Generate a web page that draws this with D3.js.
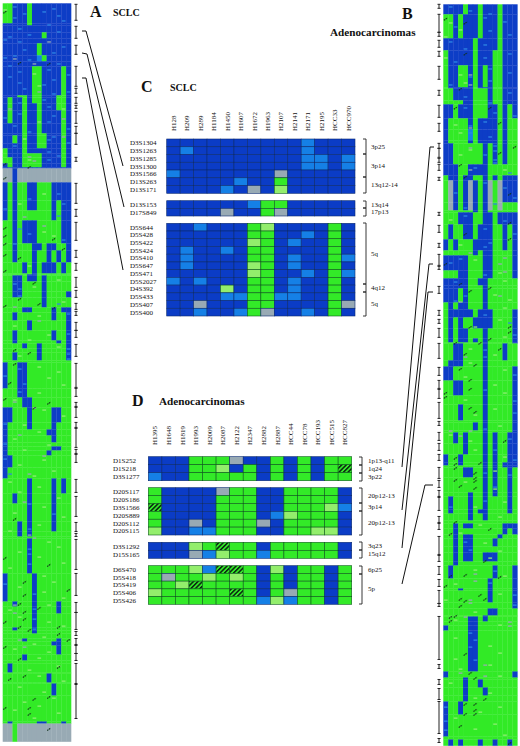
<!DOCTYPE html>
<html>
<head>
<meta charset="utf-8">
<script src="https://cdn.jsdelivr.net/npm/d3@7"></script>
<style>
  html, body { margin: 0; padding: 0; background: #fff; }
  svg { display: block; }
  text { font-family: "Liberation Serif", serif; fill: #111; }
</style>
</head>
<body>
<div id="chart"></div>
<script>
// . blue, L light blue, G green, P pale green, Y grey, H hatched

// Panel A: [first row, state of the 14 samples]
const rowsA = [
  [0,"GG...G........"],[20,".....G........"],[22,".............."],[29,"........G....."],
  [35,".............."],[40,".......G......"],[52,".......LG....."],[58,".............."],
  [63,"......GG....G."],[92,"...GG.GG...GG."],[94,".G..G.GG...GG."],[100,".G..G..G...GG."],
  [107,".G..G..G....G."],[120,"....G..G....G."],[130,"....G..GG...G."],[132,"..G.G..GG...G."],
  [140,"....G..GG...G."],[145,"G...G.......G."],[150,"G...GGGG....G."],[154,"GG..GGGG....G."],
  [160,".G..GGGG....G."],[164,".............."],[165,"YY.YYYYYYYYYYY"],[179,".G.GG..GGG...."],
  [197,".G.GG..GGG.G.."],[207,".G.GGGGGGG.G.."],[217,"GG.G...GGGGG.."],[240,"GG.GGG..G..GG."],
  [247,"GG.GGG.GG.G.G."],[259,"GGGG.G.G...G.G"],[270,"GGGGGG.GGGGGGG"],[271,"GGGGG..GGGGGGG"],
  [272,"GG..G..G.GGGGG"],[278,"GG..GGGG.GGGGG"],[288,"GG..GGGG.GGGG."],[294,"GGGGGGGG.GGGGG"],
  [304,"GGGG..GGGG.G.."],[309,"GG.GGGGGGG.GG."],[317,"GGGGG.GGGGGGG."],[327,"GG.GGGGGGG.GG."],
  [337,"GG.GGGGGGGG.G."],[340,"GGGG.GG.GGGGG."],[345,"GGGGGGG.GGGGG."],[349,"GG.GGGG.GGGGG."],
  [357,"GGGGGGGGGGGGGG"],[359,".GG..GGGGGGGGG"],[385,"GGG..GGGGGGGGG"],[394,"GGGG..GGGGGGGG"],
  [404,"..GGG.GGGG..GG"],[419,".GGGG.GGGG.GGG"],[426,".GGGGGGGG..GGG"],[432,".GGGGGGGGG.GGG"],
  [439,".GGGGGGGGGGGGG"],[443,".GGGGGGGGG..GG"],[447,".GGGGGGGG.GGGG"],[452,"..GGGGGGGGGGGG"],
  [464,".GGGGGGGGGGGGG"],[475,"GGGGG.GGGG.G.G"],[490,"GG.GG.GGGG.GGG"],[500,"GGGGG.GGGG.GGG"],
  [518,"GGG.G.GGGG.GGG"],[528,"GGG.G.GGGGGGGG"],[533,"GGGGGGGGGGGGGG"],[535,"GGGGG.GGGGGGGG"],
  [570,".GGGGG.GGGGGGG"],[598,"GG.GGG.GGGG.GG"],[603,"GGGGGG.GGGG.GG"],[610,"GGGGGG.GGGGGGG"],
  [624,"GG.GGG.GGGGGGG"],[627,"GGGGGG.GGGGGGG"],[630,"GGGGGGGGGGGGGG"],[635,"GGGG.GGGGGG.GG"],
  [638,"GGGGGGGGGG..GG"],[642,"GGGGGGGGGGG.GG"],[651,"GGGG.GGGGGGGGG"],[657,"GGGGGGGGGGGGGG"],
  [660,"G.GGGGGGGGGGGG"],[669,"GGGGGGGGGGGGGG"],[670,"GGGGGGGGG.GGGG"],[679,"GGGGGGGGGGGGGG"],
  [680,"GGGGGGGGGG.GGG"],[692,"GGGGGGGGGGGGGG"],[718,"G.GGGGG..GGG.G"],[720,"YYGYYYYYYYYYYY"]
];
const lastRowA = 738;
const lightA = [
  [3,2],[5,10],[8,8],[10,4],[12,11],[14,2],[17,12],[21,9],[25,3],[28,11],[31,5],[33,1],[36,0],[38,3],[43,12],
  [46,4],[49,10],[52,2],[54,0],[56,5],[60,11],[62,1],[66,9],[68,3],[71,13],[73,1],[76,10],[79,3],[81,8],[85,4],
  [88,13],[90,10],[96,8],[99,3],[103,9],[110,3],[112,10],[114,0],[118,9],[122,2],[125,13],[128,5],[133,10],
  [136,9],[139,13],[142,2],[148,9],[152,11],[156,9],[190,11],[195,5],[200,12],[205,0],[212,11],[225,3],[230,5],
  [236,12],[240,2],[280,2],[285,3],[292,3],[300,11],[310,13],[330,13],[345,13],[350,13],[355,13],[365,3],[372,0],
  [380,4],[388,3],[420,0],[440,0],[455,0],[470,1],[500,5],[510,10],[525,5],[545,5],[550,5],[560,5],[580,0],
  [590,6],[605,6],[615,6],[625,6]
];
const paleA = [
  [6,0],[70,6],[82,7],[105,12],[118,7],[135,4],[156,5],[190,8],[200,3],[228,8],[232,10],[262,5],[276,11],[283,6],
  [298,12],[312,7],[322,2],[331,9],[336,5],[343,11],[352,3],[363,7],[368,11],[374,9],[381,12],[389,7],[396,2],
  [406,8],[412,12],[421,4],[428,7],[435,2],[441,9],[446,4],[456,8],[461,3],[467,10],[472,6],[478,1],[483,7],
  [488,3],[494,11],[503,8],[509,2],[513,12],[521,7],[527,1],[538,9],[543,11],[548,3],[553,7],[559,12],[564,1],
  [572,8],[578,10],[583,3],[588,8],[594,12],[601,9],[606,1],[613,3],[618,9],[622,12],[633,8],[640,6],[645,2],
  [648,9],[654,7],[662,11],[666,5],[672,7],[677,12],[683,3],[688,8],[694,10],[698,4],[702,7],[706,2],[709,11],[714,6]
];
const greyA = [
  [38,9],[55,2],[60,6],[88,7],[105,1],[115,12],[133,12],[153,5],[157,6],[213,4],[222,8],[303,2],[317,7],
  [398,2],[404,6],[431,3],[452,8],[470,5],[498,4],[531,5],[534,6],[601,2],[609,2],[636,3],[643,4]
];
const marksA = [
  [8,0],[59,3],[60,9],[160,0],[163,5],[174,0],[224,0],[232,0],[240,0],[235,10],[245,12],[251,0],[254,3],[267,0],
  [279,6],[295,3],[302,0],[300,7],[304,10],[346,2],[349,5],[360,2],[379,1],[395,0],[404,6],[399,9],[515,2],[554,0],
  [561,9],[578,4],[591,4],[586,13],[600,3],[604,7],[608,4],[618,0],[615,4],[626,5],[623,3],[623,11],[630,11],[636,13],
  [643,0],[655,3],[663,11],[675,1],[672,4],[695,6],[693,9],[704,0],[704,5],[710,5],[725,9]
];
const spansA = [
  [1,17],[23,35],[42,51],[63,83],[85,90],[94,100],[102,105],[108,120],[123,130],[130,141],[154,158],[180,200],[206,213],[219,237],
  [247,254],[260,267],[274,284],[287,294],[300,306],[308,312],[319,327],[327,334],[341,353],[360,384],[385,393],[399,403],[404,414],
  [419,424],[425,444],[446,450],[451,459],[476,489],[493,513],[519,528],[530,533],[536,566],[570,592],[599,609],[609,626],[628,632],
  [635,641],[642,650],[650,657],[660,680],[681,715]
];

// Panel B: [first row, state of the 15 samples]
const rowsB = [
  [0,"....G..G...G..."],[10,"GG.G...G...G..."],[34,"......G....G..."],[46,"G.....G...GG..."],
  [61,"G..GG.G.G.GG..."],[83,"G.....G...GG..."],[84,"GG....GGG.GG..."],[96,"GGGG..GGG.GG..."],
  [100,"..G...GGG..G.G."],[114,".GGGG.G....G.GG"],[125,".GGGGLG....G.GG"],[136,".GGGG.G....G.GG"],
  [139,"..GGGGGG.G.G.GG"],[160,"...GG....GGGGGG"],[171,"G..G..GG.G.G..."],[176,"GY.G.Y.G.YGY..."],
  [198,"GY.G.Y.G.YGYGGG"],[206,"GGGGGG.G.GGGGGG"],[208,"GGG...GG..G...."],[220,"G.GG..G...GG.G."],
  [235,".G.GGG....GG.G."],[246,"GGGGGG.G..GGGG."],[251,".....GGG..GGGG."],[266,"GGG..GGG..GGGG."],
  [274,".....GG..GGGGGG"],[281,".....GGG.GGGGGG"],[284,"...G.GGG.GGGGGG"],[298,"G.G..GGG.GGGGGG"],
  [305,"G.....G...GGGG."],[313,"G.G.GG....GGGG."],[324,"G.G..GGG.GGGGG."],[334,"G.G..G.G.GGGGG."],
  [338,"GGGGGGGG.GGGGG."],[339,"GG..GGGG.GGG.GG"],[356,"G...GGGG.GGGGGG"],[362,"..GGGGGG.GGGGG."],
  [376,"GG..GGGG.GGGGG."],[391,"GGGGGGGG.GGGGG."],[400,"GGG.GGGG.GGGGG."],[416,"GGGGGGGG.GGGGG."],
  [418,"GGGGGG.G.GGGGG."],[426,"GGGGGGGG.GGGGG."],[428,"GG.G.GGG.G.GG.."],[439,"GGGG.GGG.G.GG.."],
  [450,".GG.GGGG.G.GG.."],[458,".GG.GGGG.G.G..."],[461,"GGGGGGGG.G.G..."],[463,"GGGG..GG.G.GG.G"],
  [473,"GGGGGGGG.G.GG.G"],[488,"GGGGG.GG.G.GG.G"],[492,"G.GGG.GG.GGGG.G"],[505,"G.GGG.G..GGGG.G"],
  [509,"GGGGG.GG.GGGGGG"],[516,"GGGGGGGGGGGGGGG"],[519,"GG.G..GGGGGG..."],[524,"GG.GGGGGGGGG.G."],
  [530,"GG.G..GGGGG.GGG"],[534,"GG.G..GGGG.GGGG"],[542,"GG.G..GGGGGGGGG"],[548,"GG.G..GG...GGGG"],
  [557,"GG.GGGGGGGGGGGG"],[561,"G.GGGGGGGG.GGG."],[574,"GGGGGGGGG.GGGG."],[584,"GGG.GGGGG.GGGG."],
  [586,"GGGGGGGGG.GGGG."],[598,"GGGGGGGGGGGGGG."],[604,"GGGGGGGGG..GGGG"],[611,"GGGGGGGG.GGGGGG"],
  [612,"GGGGG..G.GGGGGG"],[617,"GGGGG..GGGGGGGG"],[621,".GGGG..GGGGGGGG"],[626,"GGGGG..GGGGGGGG"],
  [667,".GGGGGGGGGGGGG."],[673,"GGGG.GGGGGGGGGG"],[675,"GGGG.GG.GGGGGGG"],[683,"GGGG.GGG.GGGGGG"],
  [691,"GGGG.GGGGGGGGGG"],[697,".GG.GGGGGGGGGGG"],[710,".GGGGGGGGGGGGGG"],[732,"GGGGGGGGGGGGGGG"],
  [735,"G.G.GGG.GG.GG.G"]
];
const lastRowB = 741;
const lightB = [
  [2,1],[6,5],[9,9],[13,8],[17,12],[22,2],[26,9],[30,13],[37,1],[40,8],[44,4],[49,13],[53,8],[57,2],[64,9],[68,13],
  [72,5],[76,9],[80,1],[88,13],[92,4],[98,9],[103,4],[108,10],[111,14],[117,8],[121,5],[128,5],[132,9],[141,10],[146,10],
  [150,8],[155,10],[158,10],[163,6],[168,13],[178,8],[183,12],[188,2],[193,14],[199,10],[203,4],[211,4],[216,12],[224,8],
  [229,14],[238,9],[242,8],[254,3],[258,1],[270,8],[277,2],[291,4],[296,2],[310,8],[318,13],[330,14],[345,8],[352,8],
  [370,14],[385,8],[396,14],[408,14],[424,8],[434,13],[445,10],[455,14],[468,8],[470,13],[482,10],[496,8],[502,1],[537,4],
  [545,5],[566,10],[578,9],[590,14],[600,14],[628,5],[635,6],[642,5],[655,6],[702,0],[716,0],[725,0]
];
const paleB = [
  [18,1],[25,3],[32,0],[53,0],[70,3],[78,4],[120,2],[128,3],[145,5],[150,3],[165,12],[215,1],[240,3],[255,6],[268,11],
  [276,12],[290,10],[295,13],[303,12],[315,11],[322,6],[332,12],[344,5],[350,10],[358,5],[365,12],[372,4],[380,10],[388,12],
  [395,4],[404,10],[410,6],[421,11],[430,1],[436,5],[445,6],[452,12],[466,10],[477,4],[484,10],[497,12],[502,6],[512,11],
  [520,7],[528,3],[538,8],[546,11],[553,9],[565,6],[571,12],[579,2],[589,11],[595,0],[607,6],[615,2],[620,11],[633,2],[641,9],
  [648,11],[654,2],[660,9],[664,3],[671,11],[678,1],[688,9],[693,6],[702,11],[707,7],[713,2],[719,10],[724,6],[730,12]
];
const greyB = [
  [70,5],[80,5],[123,5],[143,5],[165,5],[248,5],[253,12],[259,11],[267,12],[291,11],[297,3],[352,4],[426,1],[426,5],
  [431,3],[569,6],[576,6],[595,5],[598,5],[612,4],[617,13],[621,13],[660,8],[668,3],[671,8]
];
const marksB = [
  [14,0],[18,4],[49,4],[84,3],[103,2],[103,9],[118,11],[142,14],[148,11],[160,3],[172,4],[189,13],[218,13],[229,4],[234,13],
  [259,0],[279,3],[283,9],[286,5],[322,5],[322,13],[327,13],[338,2],[338,7],[334,9],[344,11],[349,4],[360,6],[364,3],[375,5],
  [384,5],[388,0],[392,0],[403,5],[407,6],[436,12],[453,2],[458,7],[459,2],[463,2],[468,6],[473,6],[475,2],[476,6],[481,3],[483,6],
  [517,2],[524,9],[529,1],[556,8],[570,4],[571,1],[572,11],[581,0],[590,7],[594,3],[596,4],[594,8],[601,3],[612,1],[611,2],[616,1],
  [649,4],[668,5],[673,6],[694,8],[699,4],[699,6],[705,6],[709,4],[709,6],[721,3],[738,13]
];
const spansB = [
  [0,4],[10,28],[28,32],[36,43],[47,52],[62,75],[86,91],[101,113],[119,127],[139,144],[144,153],[154,158],[160,166],[173,176],
  [208,211],[221,228],[239,243],[250,261],[262,265],[282,289],[306,311],[315,319],[324,333],[339,354],[363,371],[376,384],[385,394],
  [398,414],[417,421],[428,436],[439,446],[450,456],[463,474],[476,483],[486,493],[492,506],[512,518],[519,525],[532,550],[551,557],
  [562,570],[575,582],[586,599],[599,602],[612,655],[660,664],[675,680],[684,695],[697,729],[734,738]
];

// Panel C
const samplesC = ["H128","H209","H289","H1184","H1450","H1607","H1672","H1963","H2107","H2141","H2171","H2195","HCC33","HCC970"];
const markersC1 = ["D3S1304","D3S1263","D3S1285","D3S1300","D3S1566","D13S263","D13S171"];
const cellsC1 = ["..........L...",".L........L...","..........LL.L","..........LL.L","L.......Y.....",".....L..G.....","....L.Y.P....."];
const markersC2 = ["D13S153","D17S849"];
const cellsC2 = ["......LGG.....","....Y..GY....."];
const markersC3 = ["D5S644","D5S428","D5S422","D5S424","D5S410","D5S647","D5S471","D5S2027","D4S392","D5S433","D5S407","D5S400"];
const cellsC3 = [
  "..L...GP....G.","......GG..L.G.","......PG.L..G.",".L..L.GG....G.",".L....GG.L..GL",".L....PG.L..G.",
  "......PG..L.GL","L.L...GG.L..G.","....P.GG.L..G.","....LLGGLL..G.","..Y...GG....GY","..L..LGY..L.G."
];

// Panel D
const samplesD = ["H1395","H1648","H1819","H1993","H2009","H2087","H2122","H2347","H2882","H2887","HCC44","HCC78","HCC193","HCC515","HCC827"];
const markersD1 = ["D1S252","D1S218","D3S1277"];
const cellsD1 = ["...GGGY..G.G.GG","...GGP.G.G.G.GH","L..GGGGG.G.G.GG"];
const markersD2 = ["D20S117","D20S186","D3S1566","D20S889","D20S112","D20S115"];
const cellsD2 = ["G....YGG..GGGG.","G....GGG..GGGG.","H....GGG..GGGPL","G....GGG.LPGGG.","G..Y.GGGY.GGGG.","P..LLGGG..GGPP."];
const markersD3 = ["D3S1292","D15S165"];
const cellsD3 = ["...PGHGG.GGGGG.","...YLPGGLGGGGG."];
const markersD4 = ["D6S470","D5S418","D5S419","D5S406","D5S426"];
const cellsD4 = ["GGGPLHHG.P.GG.G","GYGGPGPG.G.GG.G","GGPHGGGG.G.GG.G","PGGGGGHG.GYGG.G","GGGGGGGGLPLGG.G"];

// bracket ends and the cytoband beside each
const bandsC = [["3p25",139,154],["3p14",154,177],["13q12-14",177,193],["13q14",201,208],["17p13",208,216],["5q",223,284],["4q12",284,292],["5q",292,316]];
const bandsD = [["1p13-q11",457,465],["1q24",465,473],["3p22",473,481],["20p12-13",488,503],["3p14",503,511],["20p12-13",511,535],["3q23",542,550],["15q12",550,558],["6p25",566,574],["5p",574,604]];

const W = 520, H = 746;
const color = { ".": "#0b3cc6", L: "#1580e6", G: "#33ea28", P: "#93ee6c", Y: "#98aab4" };
const fill = c => c === "H" ? "url(#hatch)" : color[c];

const svg = d3.select("#chart").append("svg").attr("width", W).attr("height", H);
const defs = svg.append("defs");
defs.append("filter").attr("id", "soft").append("feGaussianBlur").attr("stdDeviation", 0.5);
const hatch = defs.append("pattern").attr("id", "hatch").attr("width", 3.2).attr("height", 3.2)
  .attr("patternUnits", "userSpaceOnUse").attr("patternTransform", "rotate(45)");
hatch.append("rect").attr("width", 3.2).attr("height", 3.2).attr("fill", color.G);
hatch.append("rect").attr("width", 1.5).attr("height", 3.2).attr("fill", "#0a2410");

// one big overview column: blocks first, then the fine streaks and small marks
function overview(rows, lastRow, streaks, marks, spans, x0, x1, y0, y1, spanX) {
  const nCols = rows[0][1].length;
  const x = d3.scaleBand().domain(d3.range(nCols)).range([x0, x1]);
  const y = d3.scaleLinear().domain([0, lastRow]).range([y0, y1]);
  const g = svg.append("g").attr("filter", "url(#soft)");

  rows.forEach(([start, states], i) => {
    const end = i + 1 < rows.length ? rows[i + 1][0] : lastRow;
    g.append("g").selectAll("rect")
      .data(states.split(""))
      .join("rect")
        .attr("x", (d, c) => x(c))
        .attr("y", y(start))
        .attr("width", x.bandwidth() + 0.3)
        .attr("height", y(end) - y(start) + 0.3)
        .attr("fill", d => color[d]);
  });

  streaks.forEach(([list, col]) => {
    g.append("g").selectAll("rect")
      .data(list)
      .join("rect")
        .attr("x", d => x(d[1]) + 0.6)
        .attr("y", d => y(d[0]))
        .attr("width", x.bandwidth() - 1.2)
        .attr("height", 1.3)
        .attr("fill", col);
  });

  svg.append("g").selectAll("line")
    .data(marks)
    .join("line")
      .attr("x1", d => x(d[1]) + 0.6)
      .attr("x2", d => x(d[1]) + 4.2)
      .attr("y1", d => y(d[0]) + 2)
      .attr("y2", d => y(d[0]) - 0.4)
      .attr("stroke", "#10301a")
      .attr("stroke-dasharray", "1.5 0.6")
      .attr("stroke-width", 1.1);

  // small I shaped bars next to the column
  const bars = svg.append("g").attr("stroke", "#222").attr("fill", "none");
  spans.forEach(([a, b]) => {
    bars.append("path")
      .attr("d", `M${spanX - 1.5},${y(a)}H${spanX + 1.5}M${spanX},${y(a)}V${y(b)}M${spanX - 1.5},${y(b)}H${spanX + 1.5}`)
      .attr("stroke-width", 1);
  });
}

overview(rowsA, lastRowA, [[lightA, "#2f86e4"], [paleA, "#8fee72"], [greyA, color.Y]], marksA, spansA, 2.7, 71, 3.3, 741.5, 76);
overview(rowsB, lastRowB, [[lightB, "#2f86e4"], [paleB, "#8fee72"], [greyB, color.Y]], marksB, spansB, 443.3, 517.3, 4.3, 745.5, 439);

// one block of the detail tables
function block(cells, markers, x, yTop, yBot, labelX) {
  const y = d3.scaleBand().domain(markers).range([yTop, yBot]);
  const g = svg.append("g");
  markers.forEach((m, r) => {
    g.append("g").selectAll("rect")
      .data(cells[r].split(""))
      .join("rect")
        .attr("x", (d, c) => x(c))
        .attr("y", y(m))
        .attr("width", x.bandwidth())
        .attr("height", y.bandwidth())
        .attr("fill", fill)
        .attr("stroke", d => d === "." || d === "L" || d === "Y" ? "#0a2a70" : "#0d5a1c")
        .attr("stroke-width", 0.6);
  });
  svg.append("g").selectAll("text")
    .data(markers)
    .join("text")
      .attr("x", labelX)
      .attr("y", d => y(d) + y.bandwidth() / 2 + 2.4)
      .attr("font-size", 7)
      .text(d => d);
}

function columnLabels(samples, x, yBase) {
  svg.append("g").selectAll("text")
    .data(samples)
    .join("text")
      .attr("transform", d => `translate(${x(samples.indexOf(d)) + x.bandwidth() / 2 + 2.4},${yBase}) rotate(-90)`)
      .attr("font-size", 7)
      .text(d => d);
}

function brackets(bands, bx, lx) {
  const g = svg.append("g");
  bands.forEach(([name, a, b]) => {
    g.append("path")
      .attr("d", `M${bx - 3},${a}H${bx}V${b}H${bx - 3}`)
      .attr("fill", "none").attr("stroke", "#222").attr("stroke-width", 0.9);
    g.append("text")
      .attr("x", lx).attr("y", (a + b) / 2 + 2.4)
      .attr("font-size", 7)
      .text(name);
  });
}

const xC = d3.scaleBand().domain(d3.range(samplesC.length)).range([166.7, 355]);
block(cellsC1, markersC1, xC, 139, 193.3, 130);
block(cellsC2, markersC2, xC, 200.7, 216, 130);
block(cellsC3, markersC3, xC, 223.3, 316, 130);
columnLabels(samplesC, xC, 131);
brackets(bandsC, 366, 371);

const xD = d3.scaleBand().domain(d3.range(samplesD.length)).range([148.3, 351.7]);
block(cellsD1, markersD1, xD, 456.7, 480.7, 113);
block(cellsD2, markersD2, xD, 487.7, 535, 113);
block(cellsD3, markersD3, xD, 542.3, 558.3, 113);
block(cellsD4, markersD4, xD, 565.7, 604.3, 113);
columnLabels(samplesD, xD, 445);
brackets(bandsD, 362, 368);

// connectors from the overview columns to the tables
const connectors = [
  [[82,31],[86,31],[123,166]],
  [[82,53],[87,54],[124,207]],
  [[82,78],[86,78],[123,270]],
  [[434,147],[430,147],[402,467]],
  [[433,264],[429,264],[402,510]],
  [[433,292],[428,292],[402,548]],
  [[433,485],[425,485],[402,584]]
];
const line = d3.line();
svg.append("g").selectAll("path")
  .data(connectors)
  .join("path")
    .attr("d", line)
    .attr("fill", "none")
    .attr("stroke", "#111")
    .attr("stroke-width", 1);

// panel letters and headings
const titles = [
  ["A", 90, 17, 16], ["SCLC", 113, 16, 10], ["B", 402, 19, 16], ["Adenocarcinomas", 330, 36, 11.2],
  ["C", 141, 92, 16], ["SCLC", 170, 91, 10], ["D", 132, 406, 16], ["Adenocarcinomas", 159, 405, 11.2]
];
svg.append("g").selectAll("text")
  .data(titles)
  .join("text")
    .attr("x", d => d[1])
    .attr("y", d => d[2])
    .attr("font-size", d => d[3])
    .attr("font-weight", "bold")
    .text(d => d[0]);
</script>
</body>
</html>
